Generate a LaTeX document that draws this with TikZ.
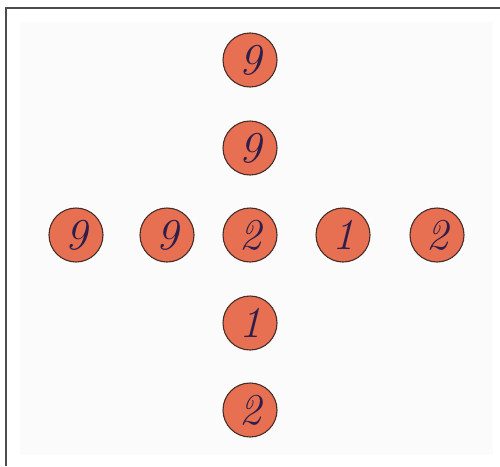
\documentclass[tikz,border=0pt]{standalone}
\usepackage{tikz}
\definecolor{discfill}{RGB}{232,112,82}
\definecolor{discline}{RGB}{70,45,40}
\definecolor{inkblue}{RGB}{45,30,75}
\tikzset{
  disc/.style={circle,draw=discline,line width=1.1pt,fill=discfill,minimum size=54pt,inner sep=0pt,
    font=\fontsize{44}{44}\selectfont\itshape,text=inkblue},
}
\begin{document}
\begin{tikzpicture}[x=1pt,y=-1pt]
			\useasboundingbox (0,0) rectangle (500,466);
			\fill[black!1.5] (20,22) rectangle (493,455);
			\draw[black!70,line width=1.3pt](6,466)--(6,8)--(500,8);
			% vertical arm
			\node[disc] (top) at (250,60) {9};
			\node[disc] (upper) at (250,148) {9};
			\node[disc] (centre) at (250,235) {2};
			\node[disc] (lower) at (250,323) {1};
			\node[disc] (bottom) at (250,410) {2};
			% horizontal arm
			\node[disc] (farleft) at (76,235) {9};
			\node[disc] (left) at (167,235) {9};
			\node[disc] (right) at (343,235) {1};
			\node[disc] (farright) at (437,235) {2};
		\end{tikzpicture}
\end{document}
